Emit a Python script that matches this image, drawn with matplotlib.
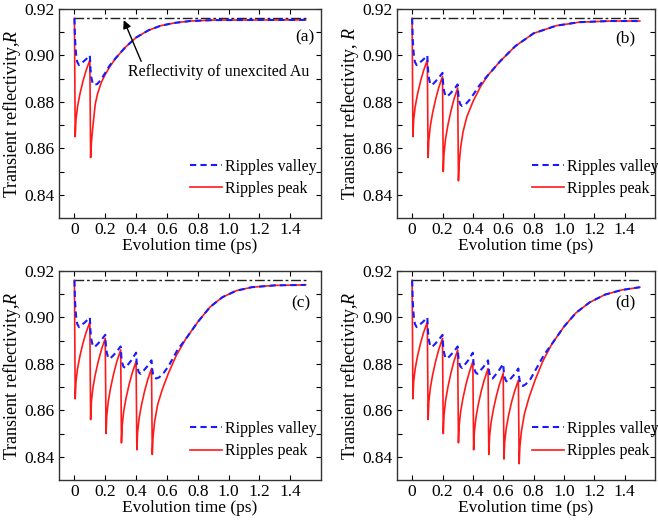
import numpy as np
import matplotlib
matplotlib.use("Agg")
import matplotlib.pyplot as plt
from matplotlib.ticker import FixedLocator, FuncFormatter

plt.rcParams['font.family'] = ['Liberation Serif', 'DejaVu Serif']
plt.rcParams['mathtext.fontset'] = 'custom'
plt.rcParams['mathtext.rm'] = 'Liberation Serif'
plt.rcParams['mathtext.it'] = 'Liberation Serif:italic'

# ---- data (time in ps, reflectivity R) ----
R_UNEXCITED = 0.916
t_ref = [0.0, 1.5]

# panel (a): two pulses
t_red_a = [0, 0.005, 0.01, 0.02, 0.035, 0.055, 0.075, 0.1,
           0.105, 0.11, 0.12, 0.135, 0.15, 0.175, 0.2, 0.23, 0.27, 0.33, 0.4,
           0.48, 0.56, 0.65, 0.75, 0.9, 1.5]
r_red_a = [0.916, 0.865, 0.8723, 0.8779, 0.8832, 0.8888, 0.8934, 0.898,
           0.856, 0.8625, 0.8695, 0.879, 0.8835, 0.8885, 0.8918, 0.8952, 0.899, 0.9035, 0.9077,
           0.9108, 0.9128, 0.914, 0.9148, 0.9152, 0.9153]
t_blue_a = [0, 0.004, 0.01, 0.018, 0.03, 0.05, 0.07, 0.085, 0.1,
            0.104, 0.11, 0.118, 0.13, 0.15, 0.175, 0.2, 0.23, 0.27, 0.33, 0.4,
            0.48, 0.56, 0.65, 0.75, 0.9, 1.5]
r_blue_a = [0.916, 0.9069, 0.9009, 0.8972, 0.8958, 0.8969, 0.8980, 0.8990, 0.900,
            0.8942, 0.8904, 0.8881, 0.8872, 0.8878, 0.8898, 0.8925, 0.8958, 0.899, 0.9035, 0.9077,
            0.9108, 0.9128, 0.914, 0.9148, 0.9152, 0.9153]

# panel (b): four pulses
t_red_b = [0, 0.005, 0.01, 0.02, 0.035, 0.055, 0.075, 0.1,
           0.105, 0.11, 0.12, 0.135, 0.155, 0.175, 0.2,
           0.205, 0.21, 0.22, 0.235, 0.255, 0.275, 0.3,
           0.305, 0.31, 0.32, 0.335, 0.36, 0.4, 0.45, 0.5, 0.58, 0.68, 0.8,
           0.95, 1.1, 1.3, 1.5]
r_red_b = [0.916, 0.865, 0.8723, 0.8779, 0.8832, 0.8888, 0.8934, 0.898,
           0.856, 0.8637, 0.8697, 0.8753, 0.8812, 0.8861, 0.891,
           0.850, 0.8579, 0.8640, 0.8698, 0.8759, 0.8810, 0.886,
           0.846, 0.8535, 0.8605, 0.867, 0.8735, 0.880, 0.8865, 0.8915, 0.8975, 0.904, 0.9095,
           0.9128, 0.9143, 0.9148, 0.9148]
t_blue_b = [0, 0.004, 0.01, 0.018, 0.03, 0.05, 0.07, 0.085, 0.1,
            0.104, 0.11, 0.118, 0.13, 0.15, 0.17, 0.185, 0.2,
            0.204, 0.21, 0.218, 0.23, 0.25, 0.27, 0.285, 0.3,
            0.304, 0.31, 0.318, 0.33, 0.35, 0.38, 0.41, 0.44, 0.47, 0.5, 0.58, 0.68, 0.8,
            0.95, 1.1, 1.3, 1.5]
r_blue_b = [0.916, 0.9069, 0.9009, 0.8972, 0.8958, 0.8969, 0.8980, 0.8990, 0.900,
            0.8942, 0.8904, 0.8881, 0.8872, 0.8885, 0.8900, 0.8912, 0.8925,
            0.8879, 0.8848, 0.8829, 0.8822, 0.8835, 0.8850, 0.8862, 0.8875,
            0.8833, 0.8805, 0.8788, 0.8782, 0.8788, 0.881, 0.8838, 0.8868, 0.8893, 0.8915, 0.8975, 0.904, 0.9095,
            0.9128, 0.9143, 0.9148, 0.9148]

# panel (c): six pulses
t_red_c = [0, 0.005, 0.01, 0.02, 0.035, 0.055, 0.075, 0.1,
           0.105, 0.11, 0.12, 0.135, 0.155, 0.175, 0.2,
           0.205, 0.21, 0.22, 0.235, 0.255, 0.275, 0.3,
           0.305, 0.31, 0.32, 0.335, 0.355, 0.375, 0.4,
           0.405, 0.41, 0.42, 0.435, 0.455, 0.475, 0.5,
           0.505, 0.51, 0.52, 0.54, 0.57, 0.61, 0.66, 0.72, 0.8, 0.88, 0.96,
           1.05, 1.15, 1.3, 1.5]
r_red_c = [0.916, 0.865, 0.8723, 0.8779, 0.8832, 0.8888, 0.8934, 0.898,
           0.856, 0.8637, 0.8697, 0.8753, 0.8812, 0.8861, 0.891,
           0.850, 0.8579, 0.8640, 0.8698, 0.8759, 0.8810, 0.886,
           0.846, 0.8537, 0.8597, 0.8653, 0.8712, 0.8761, 0.881,
           0.843, 0.8507, 0.8567, 0.8623, 0.8682, 0.8731, 0.878,
           0.841, 0.8485, 0.855, 0.8625, 0.869, 0.876, 0.8835, 0.8905, 0.898, 0.9045, 0.9087,
           0.9115, 0.913, 0.9138, 0.914]
t_blue_c = [0, 0.004, 0.01, 0.018, 0.03, 0.05, 0.07, 0.085, 0.1,
            0.104, 0.11, 0.118, 0.13, 0.15, 0.17, 0.185, 0.2,
            0.204, 0.21, 0.218, 0.23, 0.25, 0.27, 0.285, 0.3,
            0.304, 0.31, 0.318, 0.33, 0.35, 0.37, 0.385, 0.4,
            0.404, 0.41, 0.418, 0.43, 0.45, 0.47, 0.485, 0.5,
            0.504, 0.51, 0.518, 0.53, 0.55, 0.58, 0.61, 0.64, 0.67, 0.72, 0.8, 0.88, 0.96,
            1.05, 1.15, 1.3, 1.5]
r_blue_c = [0.916, 0.9069, 0.9009, 0.8972, 0.8958, 0.8969, 0.8980, 0.8990, 0.900,
            0.8942, 0.8904, 0.8881, 0.8872, 0.8885, 0.8900, 0.8912, 0.8925,
            0.8879, 0.8848, 0.8829, 0.8822, 0.8835, 0.8850, 0.8862, 0.8875,
            0.8833, 0.8805, 0.8788, 0.8782, 0.8799, 0.8816, 0.8832, 0.8848,
            0.8807, 0.8780, 0.8763, 0.8757, 0.8772, 0.8787, 0.8801, 0.8815,
            0.8780, 0.8757, 0.8742, 0.8737, 0.8742, 0.8762, 0.879, 0.8825, 0.8862, 0.8905, 0.898, 0.9045, 0.9087,
            0.9115, 0.913, 0.9138, 0.914]

# panel (d): eight pulses
t_red_d = [0, 0.005, 0.01, 0.02, 0.035, 0.055, 0.075, 0.1,
           0.105, 0.11, 0.12, 0.135, 0.155, 0.175, 0.2,
           0.205, 0.21, 0.22, 0.235, 0.255, 0.275, 0.3,
           0.305, 0.31, 0.32, 0.335, 0.355, 0.375, 0.4,
           0.405, 0.41, 0.42, 0.435, 0.455, 0.475, 0.5,
           0.505, 0.51, 0.52, 0.535, 0.555, 0.575, 0.6,
           0.605, 0.61, 0.62, 0.635, 0.655, 0.675, 0.7,
           0.705, 0.71, 0.72, 0.74, 0.77, 0.81, 0.86, 0.92, 1.0, 1.08, 1.17,
           1.27, 1.38, 1.5]
r_red_d = [0.916, 0.865, 0.8723, 0.8779, 0.8832, 0.8888, 0.8934, 0.898,
           0.856, 0.8637, 0.8697, 0.8753, 0.8812, 0.8861, 0.891,
           0.850, 0.8579, 0.8640, 0.8698, 0.8759, 0.8810, 0.886,
           0.846, 0.8537, 0.8597, 0.8653, 0.8712, 0.8761, 0.881,
           0.843, 0.8507, 0.8567, 0.8623, 0.8682, 0.8731, 0.878,
           0.841, 0.8487, 0.8547, 0.8603, 0.8662, 0.8711, 0.876,
           0.839, 0.8465, 0.8523, 0.8577, 0.8635, 0.8682, 0.873,
           0.837, 0.8445, 0.851, 0.8585, 0.8655, 0.873, 0.881, 0.8885, 0.896, 0.902, 0.9065,
           0.9098, 0.9118, 0.913]
t_blue_d = [0, 0.004, 0.01, 0.018, 0.03, 0.05, 0.07, 0.085, 0.1,
            0.104, 0.11, 0.118, 0.13, 0.15, 0.17, 0.185, 0.2,
            0.204, 0.21, 0.218, 0.23, 0.25, 0.27, 0.285, 0.3,
            0.304, 0.31, 0.318, 0.33, 0.35, 0.37, 0.385, 0.4,
            0.404, 0.41, 0.418, 0.43, 0.45, 0.47, 0.485, 0.5,
            0.504, 0.51, 0.518, 0.53, 0.55, 0.57, 0.585, 0.6,
            0.604, 0.61, 0.618, 0.63, 0.65, 0.67, 0.685, 0.7,
            0.704, 0.71, 0.718, 0.73, 0.75, 0.78, 0.81, 0.84, 0.87, 0.92, 1.0, 1.08, 1.17,
            1.27, 1.38, 1.5]
r_blue_d = [0.916, 0.9069, 0.9009, 0.8972, 0.8958, 0.8969, 0.8980, 0.8990, 0.900,
            0.8942, 0.8904, 0.8881, 0.8872, 0.8885, 0.8900, 0.8912, 0.8925,
            0.8879, 0.8848, 0.8829, 0.8822, 0.8835, 0.8850, 0.8862, 0.8875,
            0.8833, 0.8805, 0.8788, 0.8782, 0.8799, 0.8816, 0.8832, 0.8848,
            0.8807, 0.8780, 0.8763, 0.8757, 0.8772, 0.8787, 0.8801, 0.8815,
            0.8780, 0.8757, 0.8742, 0.8737, 0.8753, 0.8770, 0.8785, 0.880,
            0.8765, 0.8742, 0.8727, 0.8722, 0.8737, 0.8752, 0.8766, 0.878,
            0.8746, 0.8724, 0.8710, 0.8705, 0.8713, 0.8735, 0.877, 0.8805, 0.884, 0.8885, 0.896, 0.902, 0.9065,
            0.9098, 0.9118, 0.913]

panels = [
    ("(a)", t_red_a, r_red_a, t_blue_a, r_blue_a, "Transient reflectivity,$R$"),
    ("(b)", t_red_b, r_red_b, t_blue_b, r_blue_b, "Transient reflectivity, $R$"),
    ("(c)", t_red_c, r_red_c, t_blue_c, r_blue_c, "Transient reflectivity,$R$"),
    ("(d)", t_red_d, r_red_d, t_blue_d, r_blue_d, "Transient reflectivity,$R$"),
]
# axes boxes in figure fractions (left, bottom, width, height)
boxes = [[0.0897, 0.5816, 0.3982, 0.4012], [0.6033, 0.5816, 0.3921, 0.4012],
         [0.0897, 0.0787, 0.3982, 0.4012], [0.6033, 0.0787, 0.3921, 0.4012]]
letter_pos = [(0.94, 0.865), (0.884, 0.861), (0.924, 0.843), (0.884, 0.852)]
leg_x = [0.5, 0.523, 0.5, 0.523]

fig = plt.figure(figsize=(6.58, 5.21), dpi=100)
for i, (lab, tr, rr, tb, rb, ylab) in enumerate(panels):
    ax = fig.add_axes(boxes[i])
    ax.plot(t_ref, [R_UNEXCITED, R_UNEXCITED], color='#222222', lw=1.0,
            ls=(0, (7, 2, 2, 2)), zorder=1)
    ax.plot(tr, rr, color='#ff1a1a', lw=1.2, label='Ripples peak', zorder=2)
    ax.plot(tb, rb, color='#1a1aff', lw=1.5, ls=(0, (3, 2)), label='Ripples valley', zorder=3)

    ax.set_xlim(-0.1, 1.6)
    ax.set_ylim(0.83, 0.92)
    ax.xaxis.set_major_locator(FixedLocator([0, 0.2, 0.4, 0.6, 0.8, 1.0, 1.2, 1.4]))
    ax.xaxis.set_major_formatter(FuncFormatter(lambda v, p: "0" if abs(v) < 1e-9 else f"{v:.1f}"))
    ax.yaxis.set_major_locator(FixedLocator([0.84, 0.86, 0.88, 0.90, 0.92]))
    ax.yaxis.set_major_formatter(FuncFormatter(lambda v, p: f"{v:.2f}"))
    ax.yaxis.set_minor_locator(FixedLocator([0.85, 0.87, 0.89, 0.91]))
    ax.tick_params(which='both', direction='in', top=True, right=True,
                   labelsize=12.5, length=3.5, width=0.8, pad=3)
    for s in ax.spines.values():
        s.set_linewidth(1.0)
        s.set_color('#333333')
    ax.set_xlabel("Evolution time (ps)", fontsize=12.5, labelpad=0)
    ax.set_ylabel(ylab, fontsize=13, labelpad=1)
    ax.text(letter_pos[i][0], letter_pos[i][1], lab, transform=ax.transAxes,
            ha='center', va='center', fontsize=12.5)
    h, l = ax.get_legend_handles_labels()
    ax.legend([h[1], h[0]], [l[1], l[0]], loc='lower left', bbox_to_anchor=(leg_x[i], 0.1),
              frameon=False, fontsize=11.5, borderpad=0, borderaxespad=0,
              handlelength=2.0, handletextpad=0.2, labelspacing=0.4)
    if i == 0:
        ax.annotate("Reflectivity of unexcited Au", xy=(0.32, 0.9152), xytext=(0.935, 0.8928),
                    ha='center', va='center', fontsize=11.5,
                    arrowprops=dict(arrowstyle='-|>', color='k', lw=1.0,
                                    shrinkA=0, shrinkB=0, mutation_scale=12,
                                    relpos=(0.08, 1.0)))

fig.savefig("out.png", dpi=100)
